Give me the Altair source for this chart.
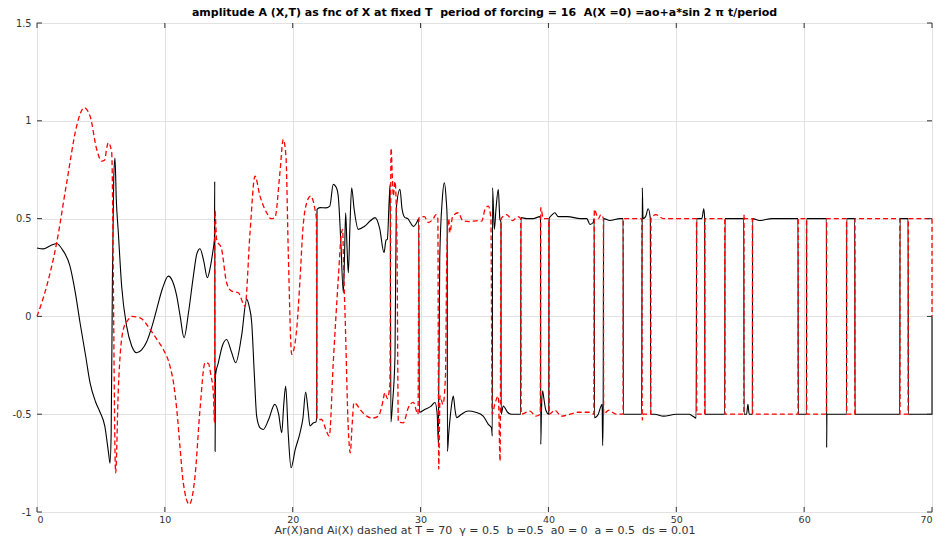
import altair as alt
import pandas as pd

TITLE = "amplitude A (X,T) as fnc of X at fixed T \u00a0period of forcing = 16 \u00a0A(X =0) =ao+a*sin 2 \u03c0 t/period"
XTITLE = "Ar(X)and Ai(X) dashed at T = 70 \u00a0\u03b3 = 0.5 \u00a0b =0.5 \u00a0a0 = 0 \u00a0a = 0.5 \u00a0ds = 0.01"

x_ticks = [0, 10, 20, 30, 40, 50, 60, 70]
y_ticks = [-1, -0.5, 0, 0.5, 1, 1.5]

# Ar(X) : solid black line, (x, y) pairs in drawing order
ar_pts = [
    (0, 0.35), (0.5, 0.345), (1.0, 0.36), (1.54, 0.373), (2.0, 0.34), (2.58, 0.257), (3.0, 0.12),
    (3.36, -0.03), (3.8, -0.2), (4.15, -0.34), (4.6, -0.44), (4.93, -0.49), (5.3, -0.56), (5.6, -0.7),
    (5.71, -0.75), (5.8, -0.6), (5.9, 0.2), (6.0, 0.7), (6.1, 0.81), (6.2, 0.6), (6.36, 0.43),
    (6.62, 0.155), (7.01, -0.05), (7.4, -0.15), (7.8, -0.186), (8.2, -0.17), (8.58, -0.13), (9.0, -0.05),
    (9.36, 0.036), (9.8, 0.14), (10.27, 0.206), (10.6, 0.18), (10.93, 0.104), (11.2, 0.0), (11.5, -0.109),
    (11.85, 0.02), (12.23, 0.206), (12.5, 0.32), (12.75, 0.346), (13.05, 0.28), (13.32, 0.198),
    (13.55, 0.25), (13.74, 0.326), (13.88, 0.4), (13.9, 0.69), (13.93, -0.69), (13.96, -0.3),
    (14.18, -0.237), (14.5, -0.15), (14.83, -0.118), (15.2, -0.18), (15.54, -0.237), (16.0, -0.1),
    (16.4, 0.087), (16.6, 0.05), (16.79, -0.03), (17.0, -0.3), (17.18, -0.51), (17.45, -0.57),
    (17.7, -0.578), (18.1, -0.53), (18.6, -0.45), (18.9, -0.5), (19.14, -0.595), (19.3, -0.45),
    (19.45, -0.356), (19.65, -0.6), (19.87, -0.774), (20.2, -0.68), (20.57, -0.595), (20.8, -0.52),
    (21.01, -0.387), (21.2, -0.48), (21.35, -0.56), (21.6, -0.545), (21.82, -0.54), (21.88, -0.5),
    (21.9, 0.547), (22.13, 0.556), (22.6, 0.555), (22.9, 0.564), (23.17, 0.675), (23.4, 0.66),
    (23.56, 0.615), (23.75, 0.4), (23.96, 0.121), (24.05, 0.3), (24.14, 0.53), (24.25, 0.35),
    (24.35, 0.223), (24.47, 0.45), (24.61, 0.658), (24.8, 0.55), (25.13, 0.445), (25.6, 0.46),
    (26.1, 0.49), (26.44, 0.505), (26.8, 0.45), (27.14, 0.326), (27.3, 0.39), (27.4, 0.394),
    (27.55, 0.6), (27.62, 0.675), (27.68, -0.54), (27.8, -0.45), (28.0, -0.2), (28.1, 0.55),
    (28.39, 0.65), (28.55, 0.55), (28.78, 0.505), (29.0, 0.5), (29.2, 0.48), (29.43, 0.46),
    (29.7, 0.48), (29.86, 0.5), (29.9, -0.49), (30.35, -0.475), (30.8, -0.46), (31.13, -0.44),
    (31.3, -0.5), (31.39, -0.645), (31.5, 0.3), (31.7, 0.6), (31.86, 0.683), (32.0, 0.6), (32.08, 0.5),
    (32.1, -0.69), (32.2, -0.6), (32.3, -0.527), (32.45, -0.44), (32.56, -0.407), (32.7, -0.48),
    (32.82, -0.518), (33.2, -0.5), (33.73, -0.484), (34.3, -0.49), (34.9, -0.51), (35.3, -0.552),
    (35.55, -0.57), (35.61, -0.612), (35.63, 0.658), (35.77, 0.445), (35.9, 0.55), (36.08, 0.65),
    (36.2, 0.5), (36.29, 0.48), (36.3, -0.5), (36.47, -0.458), (36.8, -0.49), (37.12, -0.5),
    (37.5, -0.5), (37.83, -0.5), (37.85, 0.505), (38.3, 0.5), (38.8, 0.5), (39.34, 0.51), (39.38, 0.5),
    (39.4, -0.654), (39.45, -0.5), (39.55, -0.38), (39.6, -0.4), (39.8, -0.48), (40.03, -0.5),
    (40.05, 0.5), (40.3, 0.52), (40.5, 0.53), (40.77, 0.51), (41.5, 0.51), (42.5, 0.5), (43.0, 0.5),
    (43.25, 0.47), (43.5, 0.48), (43.58, 0.5), (43.6, -0.518), (43.9, -0.5), (44.1, -0.46),
    (44.2, -0.45), (44.24, -0.66), (44.28, -0.5), (44.32, 0.5), (44.8, 0.49), (45.6, 0.5),
    (45.84, 0.5), (45.86, -0.5), (46.5, -0.5), (47.29, -0.5), (47.34, 0.658), (47.4, 0.5),
    (47.6, 0.51), (47.8, 0.55), (47.97, 0.5), (48.0, -0.5), (48.3, -0.5), (49.0, -0.51), (50.0, -0.5),
    (51.0, -0.5), (51.3, -0.51), (51.55, -0.52), (51.6, 0.5), (52.0, 0.5), (52.15, 0.55), (52.22, 0.5),
    (52.24, -0.5), (53.79, -0.5), (53.81, 0.5), (55.28, 0.5), (55.3, -0.5), (55.5, -0.5), (55.6, -0.45),
    (55.7, -0.5), (55.95, -0.5), (55.97, 0.5), (56.5, 0.49), (57.5, 0.5), (59.52, 0.5), (59.54, -0.5),
    (60.18, -0.5), (60.2, 0.5), (61.74, 0.5), (61.76, -0.67), (61.78, -0.5), (63.31, -0.5),
    (63.33, 0.5), (63.96, 0.5), (63.98, -0.5), (67.48, -0.5), (67.5, 0.5), (68.13, 0.5), (68.15, -0.5),
    (70, -0.5), (70, 0),
]

# Ai(X) : dashed red line, (x, y) pairs in drawing order
ai_pts = [
    (0, 0), (0.76, 0.155), (1.54, 0.377), (2.32, 0.683), (3.1, 0.973), (3.4, 1.04), (3.68, 1.067),
    (4.15, 1.024), (4.67, 0.854), (5.06, 0.794), (5.3, 0.8), (5.45, 0.86), (5.58, 0.888), (5.84, 0.84),
    (6.15, -0.8), (6.36, -0.373), (6.75, -0.066), (7.1, -0.02), (7.4, 0.0), (8.06, -0.007),
    (8.84, -0.066), (9.4, -0.12), (9.88, -0.169), (10.4, -0.254), (10.7, -0.35), (10.93, -0.475),
    (11.2, -0.68), (11.44, -0.85), (11.91, -0.961), (12.36, -0.816), (12.75, -0.475), (13.14, -0.237),
    (13.4, -0.24), (13.6, -0.3), (13.79, -0.39), (13.88, -0.54), (13.92, 0.54), (14.05, 0.394),
    (14.44, 0.343), (14.83, 0.172), (15.23, 0.129), (15.74, 0.121), (16.27, 0.053), (16.66, 0.428),
    (17.05, 0.717), (17.44, 0.615), (17.96, 0.53), (18.3, 0.5), (18.61, 0.505), (19.0, 0.735),
    (19.26, 0.905), (19.47, 0.82), (19.66, 0.308), (19.92, -0.194), (20.31, -0.066), (20.57, 0.189),
    (20.8, 0.45), (21.09, 0.58), (21.4, 0.615), (21.74, 0.547), (21.85, 0.5), (21.9, -0.527),
    (22.26, -0.527), (22.6, -0.58), (22.86, -0.612), (23.17, -0.237), (23.56, 0.189), (23.8, 0.42),
    (23.9, 0.445), (24.0, 0.2), (24.09, 0.019), (24.35, -0.578), (24.5, -0.697), (24.65, -0.55),
    (24.79, -0.441), (25.0, -0.45), (25.26, -0.475), (25.79, -0.51), (26.2, -0.52), (26.7, -0.51),
    (27.0, -0.45), (27.22, -0.39), (27.4, -0.42), (27.6, -0.35), (27.69, 0.86), (27.8, 0.7),
    (27.87, 0.615), (28.0, 0.69), (28.15, 0.4), (28.26, -0.54), (28.65, -0.544), (29.04, -0.467),
    (29.43, -0.44), (29.8, -0.5), (29.88, 0.505), (30.3, 0.51), (30.6, 0.48), (31.0, 0.5), (31.2, 0.52),
    (31.35, 0.5), (31.42, -0.78), (31.52, -0.407), (31.75, -0.45), (31.95, -0.3), (32.05, 0.3),
    (32.2, 0.5), (32.3, 0.428), (32.5, 0.51), (32.95, 0.53), (33.3, 0.49), (33.8, 0.485), (34.5, 0.49),
    (34.78, 0.487), (35.04, 0.547), (35.3, 0.564), (35.5, 0.5), (35.6, -0.5), (35.8, -0.45),
    (36.08, -0.407), (36.22, -0.74), (36.3, 0.5), (36.74, 0.52), (37.2, 0.49), (37.6, 0.51),
    (37.83, 0.5), (37.87, -0.5), (38.56, -0.484), (39.0, -0.51), (39.36, -0.5), (39.4, 0.556),
    (39.6, 0.5), (40.02, 0.5), (40.06, -0.5), (40.5, -0.48), (41.0, -0.51), (41.7, -0.5), (42.3, -0.49),
    (43.2, -0.49), (43.55, -0.5), (43.59, 0.547), (43.9, 0.5), (44.1, 0.52), (44.3, 0.5), (44.32, -0.5),
    (44.7, -0.48), (45.3, -0.5), (45.84, -0.5), (45.86, 0.5), (47.3, 0.5), (47.34, -0.53), (47.4, -0.5),
    (48.0, -0.5), (48.02, 0.5), (48.4, 0.52), (49.0, 0.5), (51.58, 0.5), (51.6, -0.5), (52.22, -0.5),
    (52.24, 0.5), (53.79, 0.5), (53.81, -0.5), (55.28, -0.5), (55.3, 0.52), (55.32, 0.5), (55.95, 0.5),
    (55.97, -0.5), (59.52, -0.5), (59.54, 0.5), (60.18, 0.5), (60.2, -0.5), (61.74, -0.5), (61.76, 0.5),
    (63.31, 0.5), (63.33, -0.5), (63.96, -0.5), (63.98, 0.5), (67.48, 0.5), (67.5, -0.5), (68.13, -0.5),
    (68.15, 0.5), (70, 0.5), (70, 0),
]

df_ar = pd.DataFrame({"x": [p[0] for p in ar_pts], "y": [p[1] for p in ar_pts], "i": range(len(ar_pts))})
df_ai = pd.DataFrame({"x": [p[0] for p in ai_pts], "y": [p[1] for p in ai_pts], "i": range(len(ai_pts))})
df_xt = pd.DataFrame({"x": x_ticks})
df_yt = pd.DataFrame({"y": y_ticks})

FONT = "DejaVu Sans"
xs = alt.Scale(domain=[0, 70], nice=False, zero=False)
ys = alt.Scale(domain=[-1, 1.5], nice=False, zero=False)

x_axis = alt.Axis(values=x_ticks, format="d", grid=True, gridColor="#e2e2e2", gridWidth=1,
                  tickSize=0, domain=False, labelPadding=2, labelFontSize=9.5, labelFont=FONT,
                  labelColor="#333333", title=XTITLE, titleFont=FONT, titleFontSize=11,
                  titleFontWeight="normal", titleColor="#333333", titlePadding=1)
y_axis = alt.Axis(values=y_ticks, grid=True, gridColor="#e2e2e2", gridWidth=1, tickSize=0,
                  domain=False, labelPadding=6, labelFontSize=9.8, labelFont=FONT,
                  labelColor="#333333", title=None,
                  labelExpr="datum.value < 0 ? '-' + format(-datum.value, '~g') : format(datum.value, '~g')")

X = alt.X("x:Q", scale=xs, axis=x_axis)
Y = alt.Y("y:Q", scale=ys, axis=y_axis)

W, H = 895, 489
TL = 5
tick_color = "#333333"

black = alt.Chart(df_ar).mark_line(color="black", strokeWidth=1.1, interpolate="monotone").encode(
    x=X, y=Y, order="i:Q")
red = alt.Chart(df_ai).mark_line(color="#ff0000", strokeWidth=1.3, strokeDash=[5, 3],
                                 interpolate="monotone").encode(x=X, y=Y, order="i:Q")

bt = alt.Chart(df_xt).mark_rule(color=tick_color, strokeWidth=1).encode(
    x=X, y=alt.value(H), y2=alt.value(H - TL))
tt = alt.Chart(df_xt).mark_rule(color=tick_color, strokeWidth=1).encode(
    x=X, y=alt.value(0), y2=alt.value(TL))
lt = alt.Chart(df_yt).mark_rule(color=tick_color, strokeWidth=1).encode(
    y=Y, x=alt.value(0), x2=alt.value(TL))
rt = alt.Chart(df_yt).mark_rule(color=tick_color, strokeWidth=1).encode(
    y=Y, x=alt.value(W), x2=alt.value(W - TL))

chart = alt.layer(black, red, bt, tt, lt, rt).properties(
    width=W, height=H,
    title=alt.TitleParams(TITLE, font=FONT, fontSize=11, fontWeight="bold", color="black",
                          anchor="middle", offset=0),
    autosize=alt.AutoSizeParams(type="none"),
    padding={"left": 37, "top": 23, "right": 5, "bottom": 29},
).configure_view(stroke="#444444", strokeWidth=1).configure(background="white")

chart.save("out.html", embed_options={"renderer": "svg", "actions": False})
